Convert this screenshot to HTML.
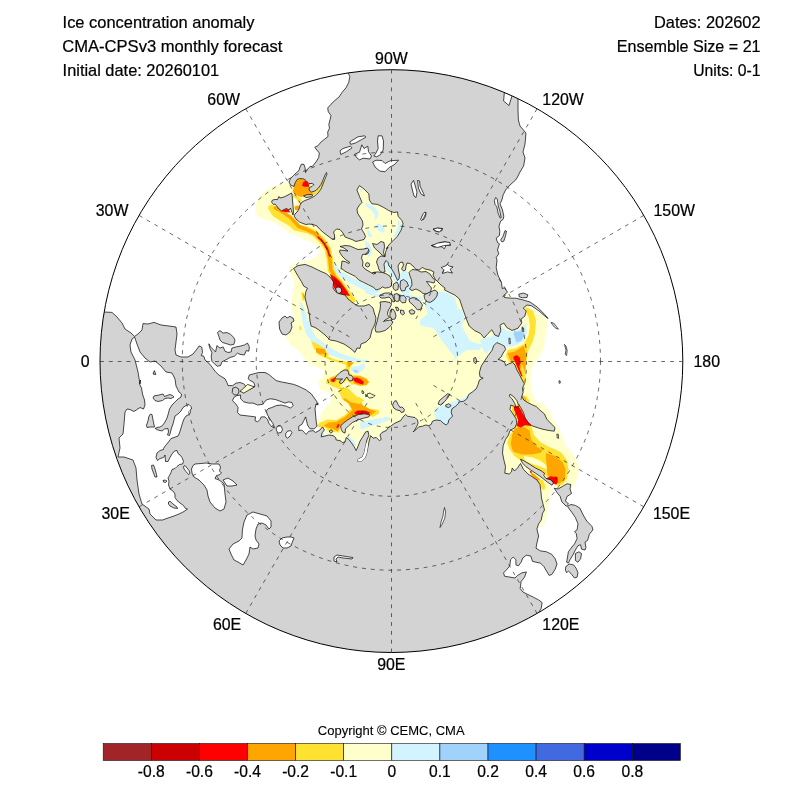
<!DOCTYPE html>
<html><head><meta charset="utf-8"><title>Ice concentration anomaly</title>
<style>
html,body{margin:0;padding:0;background:#fff;}
body{width:800px;height:800px;overflow:hidden;font-family:"Liberation Sans",sans-serif;}
svg{display:block;will-change:transform}
svg text{font-family:"Liberation Sans",sans-serif;fill:#000;stroke:#000;stroke-width:0.22px}
</style></head><body>
<svg width="800" height="800" viewBox="0 0 800 800">
<rect width="800" height="800" fill="#fff"/>
<defs><clipPath id="clip"><circle cx="391.4" cy="361.1" r="291.4"/></clipPath></defs>
<g clip-path="url(#clip)">
<g id="colors" stroke="none">
<path d="M265.6,190.0 L260.0,196.2 L255.6,203.8 L255.0,211.2 L258.8,217.5 L267.5,220.0 L276.2,223.8 L283.8,228.8 L291.2,233.8 L300.0,237.5 L310.0,241.2 L317.5,246.2 L320.0,252.5 L315.0,257.5 L307.5,261.2 L298.8,262.5 L292.5,263.8 L288.8,267.5 L290.0,272.5 L293.8,280.0 L296.2,290.0 L340.0,300.0 L400.0,300.0 L450.0,270.0 L440.0,200.0 L400.0,170.0 L365.0,178.0 L352.0,182.0 L345.0,215.0 L330.0,222.0 L310.0,215.0 L294.0,214.0 L290.0,200.0 L289.0,181.0Z" fill="#ffffcc" stroke="none" />
<path d="M296.0,290.0 L295.0,280.0 L293.0,292.0 L291.0,306.0 L293.0,316.0 L289.0,326.0 L286.0,338.0 L290.0,344.0 L298.0,350.0 L304.0,358.0 L310.0,364.0 L318.0,368.0 L324.0,370.0 L323.0,376.0 L318.0,382.0 L320.0,389.0 L326.0,394.0 L332.0,398.0 L329.0,402.0 L325.0,408.0 L321.0,414.0 L318.0,421.0 L316.0,424.0 L340.0,460.0 L420.0,460.0 L470.0,440.0 L495.0,450.0 L495.0,480.0 L530.0,530.0 L540.0,527.0 L545.0,524.0 L547.0,515.0 L549.0,503.0 L551.0,490.5 L553.0,485.0 L565.0,492.0 L570.0,487.5 L574.5,486.0 L578.0,477.0 L579.0,468.0 L576.0,459.0 L570.0,450.0 L564.0,442.5 L559.5,429.0 L553.5,420.0 L549.0,411.0 L543.0,403.5 L540.0,404.0 L537.0,402.0 L533.0,395.0 L531.0,390.0 L530.5,382.0 L531.0,372.0 L533.0,365.0 L538.0,358.0 L543.0,350.0 L546.0,335.0 L548.0,319.0 L527.0,305.0 L510.0,300.0 L480.0,250.0 L440.0,230.0 L420.0,250.0 L400.0,270.0 L340.0,296.0 L300.0,286.0Z" fill="#ffffcc" stroke="none" />
<path d="M289.0,181.0 L300.0,170.0 L315.0,168.0 L328.0,171.0 L326.0,186.0 L310.0,202.0 L298.0,213.0 L293.0,217.0 L289.0,200.0Z" fill="#ffffcc" stroke="none" />
<path d="M501.5,326.0 L506.0,330.5 L512.0,332.0 L521.0,329.0 L525.5,323.0 L527.0,332.0 L524.0,341.0 L515.0,345.5 L506.0,347.0 L500.0,342.5 L492.5,341.0 L485.0,342.5 L479.0,344.0 L470.0,341.0 L462.5,327.5 L458.0,309.5 L455.0,297.5 L447.5,293.0 L440.0,291.5 L431.0,294.5 L425.0,305.0 L431.0,323.0 L440.0,338.0 L449.0,350.0 L455.0,357.5 L449.0,365.0 L458.0,356.0 L467.0,350.0 L479.0,350.0Z" fill="#d2f4ff" stroke="none" />
<path d="M420.0,320.0 L430.0,312.0 L440.0,309.0 L452.0,308.0 L462.0,310.0 L465.0,320.0 L460.0,326.0 L452.0,329.0 L449.0,336.0 L453.0,343.0 L460.0,348.0 L456.0,352.0 L448.0,348.0 L443.0,340.0 L440.0,332.0 L434.0,328.0 L426.0,327.0 L420.0,325.0Z" fill="#d2f4ff" stroke="none" />
<path d="M480.0,340.0 L488.0,337.0 L496.0,337.6 L498.0,342.4 L492.0,348.0 L486.0,354.0 L483.0,350.0Z" fill="#d2f4ff" stroke="none" />
<path d="M436.0,408.0 L444.0,405.0 L452.0,402.0 L464.0,398.0 L476.0,388.0 L480.0,384.0 L478.0,394.0 L470.0,396.0 L468.0,401.0 L460.0,405.0 L454.0,411.0 L450.0,419.0 L442.0,423.0 L436.0,418.0Z" fill="#d2f4ff" stroke="none" />
<path d="M435.0,407.5 L440.0,406.2 L445.0,407.5 L452.5,407.5 L451.2,412.5 L452.5,416.2 L448.8,420.0 L448.1,423.1 L446.2,425.0 L443.1,423.1 L440.6,420.6 L436.2,420.0 L434.4,415.0Z" fill="#d2f4ff" stroke="none" />
<path d="M385.0,260.0 L388.8,262.5 L392.5,268.8 L396.2,275.0 L398.1,282.5 L400.0,290.0 L405.0,295.0 L410.0,292.5 L415.0,285.0 L410.0,280.0 L405.0,273.8 L402.5,270.0 L400.0,275.0 L397.5,273.8 L395.0,267.5 L391.2,262.5 L387.5,257.5Z" fill="#d2f4ff" stroke="none" />
<path d="M342.5,271.9 L350.0,276.2 L357.5,280.6 L367.5,285.6 L375.0,289.0 L380.0,290.0 L378.8,293.1 L371.2,292.2 L363.8,290.0 L356.2,286.2 L348.8,281.9 L342.5,277.5 L339.4,273.8Z" fill="#d2f4ff" stroke="none" />
<path d="M333.8,265.0 L336.2,270.0 L335.0,273.8 L332.5,270.0Z" fill="#d2f4ff" stroke="none" />
<path d="M384.5,260.0 L387.5,261.0 L390.0,267.0 L394.0,273.0 L397.0,279.0 L398.0,282.0 L395.0,282.0 L392.0,277.0 L389.0,273.0 L386.0,269.0 L384.5,265.0Z" fill="#d2f4ff" stroke="none" />
<path d="M402.0,271.0 L405.0,269.0 L408.0,273.0 L410.0,278.0 L409.0,282.0 L407.0,279.0 L405.0,275.0 L403.0,274.0Z" fill="#d2f4ff" stroke="none" />
<path d="M365.0,288.0 L371.0,291.0 L377.0,294.0 L385.0,293.5 L391.0,293.0 L398.0,294.0 L405.0,293.0 L411.0,295.0 L417.0,297.0 L421.0,296.0 L424.0,300.0 L419.0,303.0 L413.0,301.0 L407.0,299.0 L400.0,297.0 L393.0,295.0 L385.0,296.0 L377.0,297.0 L371.0,295.0 L365.0,293.0Z" fill="#d2f4ff" stroke="none" />
<path d="M425.0,303.0 L431.0,304.0 L437.0,301.0 L441.0,295.0 L445.0,291.0 L445.0,305.0 L439.0,311.0 L433.0,313.0 L427.0,309.0Z" fill="#d2f4ff" stroke="none" />
<path d="M365.0,240.0 L369.0,243.0 L372.0,249.0 L371.0,255.0 L368.0,257.0 L366.0,251.0Z" fill="#d2f4ff" stroke="none" />
<path d="M365.0,202.5 L371.2,205.0 L375.0,207.5 L378.8,212.5 L377.5,217.5 L373.8,220.0 L375.0,215.0 L371.2,210.0 L366.2,206.2Z" fill="#d2f4ff" stroke="none" />
<path d="M375.0,225.0 L380.0,223.8 L383.8,227.5 L385.0,232.5 L381.2,232.5 L377.5,230.0Z" fill="#d2f4ff" stroke="none" />
<path d="M397.5,220.0 L401.2,222.5 L401.9,227.5 L399.4,232.5 L395.0,237.5 L392.5,236.2 L396.2,231.2 L398.1,226.2Z" fill="#d2f4ff" stroke="none" />
<path d="M366.2,230.0 L370.0,231.2 L372.5,236.2 L368.8,237.5Z" fill="#d2f4ff" stroke="none" />
<path d="M358.8,187.5 L361.9,188.8 L362.5,192.5 L360.0,191.2Z" fill="#d2f4ff" stroke="none" />
<path d="M300.0,300.0 L305.0,310.0 L308.0,320.0 L312.0,330.0 L316.0,337.0 L324.0,343.0 L332.0,349.0 L342.0,354.0 L352.0,357.0 L358.0,359.0 L350.0,360.0 L340.0,358.0 L330.0,355.0 L320.0,349.0 L312.0,342.0 L306.0,334.0 L303.0,324.0 L301.0,312.0Z" fill="#d2f4ff" stroke="none" />
<path d="M351.0,367.0 L356.0,366.0 L361.0,369.0 L360.0,373.0 L355.0,373.6 L351.0,371.0Z" fill="#d2f4ff" stroke="none" />
<path d="M360.0,422.5 L367.5,420.6 L377.5,418.8 L385.0,416.9 L390.0,416.9 L390.0,420.0 L382.5,422.5 L375.0,425.0 L367.5,427.5 L361.2,430.0 L360.0,426.2Z" fill="#d2f4ff" stroke="none" />
<path d="M346.9,437.5 L350.0,436.9 L353.8,440.0 L356.2,445.0 L355.0,446.2 L351.2,442.5 L348.1,440.0Z" fill="#d2f4ff" stroke="none" />
<path d="M312.5,430.0 L316.2,431.9 L321.2,432.5 L324.4,433.8 L325.0,436.9 L321.2,436.9 L316.9,434.4 L313.1,433.1Z" fill="#d2f4ff" stroke="none" />
<path d="M513.5,333.5 L521.0,330.5 L524.8,335.0 L521.0,341.0 L516.5,342.5Z" fill="#a0d2fa" stroke="none" />
<path d="M513.8,330.0 L518.8,332.5 L522.5,331.2 L525.0,335.0 L521.2,338.8 L517.5,340.0 L515.0,336.2Z" fill="#a0d2fa" stroke="none" />
<path d="M334.0,265.0 L336.0,264.0 L338.5,269.0 L340.0,274.0 L342.0,277.0 L339.5,277.0 L337.0,273.0 L335.0,269.0Z" fill="#d2f4ff" stroke="none" />
<path d="M334.0,265.0 L338.0,267.0 L342.0,275.0 L339.0,276.0 L335.6,271.0Z" fill="#d2f4ff" stroke="none" />
<path d="M271.5,208.0 L275.0,213.5 L281.0,217.5 L290.0,222.5 L296.0,227.5 L307.5,230.0 L315.0,233.5 L322.5,241.0 L327.5,248.5 L330.0,260.0 L331.0,270.0 L335.0,277.5 L340.0,283.0 L346.0,292.0 L352.0,300.0" fill="none" stroke="#ffe132" stroke-width="6.5" stroke-linecap="round" stroke-linejoin="round"/>
<path d="M275.5,208.0 L279.0,210.0 L283.0,212.5 L290.0,217.0 L295.0,222.0 L299.0,226.5 L307.5,229.8 L315.0,233.5 L322.5,241.0 L327.5,248.5 L330.0,260.0 L331.0,270.0 L335.0,277.5 L340.0,283.0 L346.0,292.0" fill="none" stroke="#ffa500" stroke-width="3.6" stroke-linecap="round" stroke-linejoin="round"/>
<path d="M318.0,237.0 L323.0,242.0 L327.5,249.0 L329.5,256.0" fill="none" stroke="#ff0000" stroke-width="1.6" stroke-linecap="round" stroke-linejoin="round"/>
<path d="M330.0,274.0 L335.0,277.0 L340.0,281.5 L346.0,289.5 L350.0,296.0 L344.0,295.0 L338.0,293.0 L334.0,288.0 L332.5,282.0Z" fill="#ff0000" stroke="none" />
<path d="M334.0,278.0 L339.0,282.0 L342.0,287.0 L337.0,288.0 L334.4,284.0Z" fill="#cd0000" stroke="none" />
<path d="M281.5,211.2 L284.0,209.7 L286.5,208.7 L289.0,210.2 L290.5,212.5 L286.5,212.2Z" fill="#ff0000" stroke="none" />
<path d="M294.0,186.5 L295.0,183.0 L297.0,180.0 L300.0,179.0 L304.0,179.2 L306.5,181.0 L309.0,183.5 L309.5,187.5 L309.0,190.0 L311.5,192.0 L315.0,191.0 L318.0,188.5 L320.5,185.0 L321.5,186.0 L319.0,190.0 L315.0,194.0 L310.0,195.5 L305.0,196.0 L301.0,197.0 L298.0,196.0 L295.0,194.0 L292.5,192.0Z" fill="#ffa500" stroke="none" />
<path d="M315.0,191.0 L318.0,188.5 L321.0,184.5 L323.0,180.0 L324.0,181.0 L322.0,186.0 L319.5,190.0 L316.5,193.0 L313.0,194.0 L312.0,192.5Z" fill="#ffe132" stroke="none" />
<path d="M302.0,186.0 L303.0,182.5 L305.0,180.8 L307.5,182.2 L309.0,184.5 L309.0,186.8 L305.0,186.8Z" fill="#ff0000" stroke="none" />
<path d="M292.5,194.0 L295.0,195.0 L299.0,197.0 L302.0,200.0 L300.0,203.0 L297.0,202.0 L294.0,200.0 L292.8,197.0Z" fill="#ffe132" stroke="none" />
<path d="M294.5,206.5 L297.0,205.5 L299.5,206.0 L299.0,209.0 L297.0,210.5 L294.8,209.8Z" fill="#ffa500" stroke="none" />
<path d="M293.5,197.0 L295.0,198.0 L297.0,200.0 L298.0,203.0 L296.0,204.0 L294.5,202.0Z" fill="#fff" stroke="none" />
<path d="M311.0,341.0 L316.0,343.0 L324.0,348.0 L329.0,355.0 L326.0,357.0 L320.0,354.0 L314.0,349.0Z" fill="#ffe132" stroke="none" />
<path d="M318.0,349.0 L324.0,350.0 L327.0,354.4 L322.0,354.0Z" fill="#ffa500" stroke="none" />
<path d="M299.0,326.0 L301.0,326.4 L301.6,330.0 L299.6,330.0Z" fill="#ffe132" stroke="none" />
<path d="M302.2,292.5 L303.6,296.5 L303.2,300.5" fill="none" stroke="#ffe132" stroke-width="2.6" stroke-linecap="butt" stroke-linejoin="round"/>
<path d="M303.2,294.0 L304.0,298.0" fill="none" stroke="#ffa500" stroke-width="1.0" stroke-linecap="butt" stroke-linejoin="round"/>
<path d="M316.0,350.0 L320.0,352.0 L326.0,355.5 L333.0,358.8 L340.0,360.8 L347.0,361.8 L354.5,362.2 L351.5,365.0 L349.5,369.0 L350.0,373.0 L353.0,375.0 L360.0,375.5 L366.0,378.0 L369.5,382.0 L366.5,385.5 L360.0,386.0 L354.0,384.0 L352.0,385.0 L346.0,388.5 L343.2,392.0 L344.0,397.0 L348.0,398.8 L360.0,397.8 L362.2,403.0 L364.2,408.0 L370.0,410.8 L378.0,409.8 L379.2,413.0 L374.0,416.2 L370.0,415.5 L364.0,416.0 L355.0,415.0 L350.0,412.5 L354.0,409.0 L353.0,405.0 L349.0,403.0 L344.0,401.0 L341.0,397.0 L340.5,392.0 L339.0,389.0 L334.0,387.0 L329.0,384.5 L325.5,383.0 L327.0,380.0 L331.0,377.0 L336.0,375.0 L340.0,372.5 L344.0,370.0 L346.2,367.0 L345.5,364.5 L340.0,363.0 L330.0,360.0 L320.0,355.5 L316.0,353.0Z" fill="#ffe132" stroke="none" />
<path d="M341.5,384.5 L345.0,382.0 L347.0,380.0 L350.0,383.0 L352.0,384.5 L346.0,387.8 L342.5,388.5 L340.5,387.0Z" fill="#ffffcc" stroke="none" />
<path d="M316.0,348.0 L325.0,349.0 L326.2,354.0 L320.0,354.5 L316.0,352.0Z" fill="#ffa500" stroke="none" />
<path d="M347.0,362.0 L354.0,362.5 L351.2,365.0 L348.8,367.2 L347.6,365.0Z" fill="#ffa500" stroke="none" />
<path d="M352.0,376.2 L360.0,376.2 L366.0,378.8 L368.8,382.0 L366.0,385.0 L360.0,385.5 L354.0,383.5 L353.0,380.0Z" fill="#ffa500" stroke="none" />
<path d="M353.5,378.0 L357.0,377.5 L361.0,379.5 L364.0,382.0 L362.5,384.5 L359.0,383.5 L355.0,382.0 L353.5,380.0Z" fill="#ff0000" stroke="none" />
<path d="M329.5,379.0 L333.0,376.8 L336.5,377.5 L336.0,380.5 L334.0,382.5 L330.5,382.0Z" fill="#ffa500" stroke="none" />
<path d="M331.0,379.5 L333.5,378.5 L335.5,380.0 L334.0,382.0 L331.5,381.5Z" fill="#ff0000" stroke="none" />
<path d="M340.0,388.5 L344.0,387.2 L345.0,389.0 L342.5,390.0Z" fill="#ffa500" stroke="none" />
<path d="M344.0,400.0 L348.0,398.0 L360.0,398.5 L361.5,404.0 L364.0,409.0 L370.0,411.5 L372.0,414.0 L355.0,414.2 L350.0,412.0 L354.0,409.0 L353.0,405.0 L349.0,403.0Z" fill="#ffa500" stroke="none" />
<path d="M354.0,412.2 L357.0,410.5 L364.0,410.0 L369.0,411.5 L370.0,413.5 L365.0,414.2 L359.0,414.7 L355.0,414.2Z" fill="#ff0000" stroke="none" />
<path d="M351.0,368.5 L355.0,367.5 L360.0,365.0 L364.0,363.0 L365.2,367.0 L362.0,371.0 L357.0,373.5 L353.0,372.0Z" fill="#d2f4ff" stroke="none" />
<path d="M353.0,369.5 L357.0,370.0 L358.5,372.5 L355.0,372.5Z" fill="#a0d2fa" stroke="none" />
<path d="M328.0,349.0 L335.0,350.0 L341.0,354.0 L346.0,357.0 L353.0,359.0 L360.0,359.5 L368.0,360.0 L370.0,362.5 L364.0,361.8 L356.0,361.5 L348.0,360.5 L340.0,358.5 L333.0,355.5 L329.0,352.0Z" fill="#d2f4ff" stroke="none" />
<path d="M338.1,390.0 L345.0,390.0 L343.8,395.0 L348.8,397.5 L360.0,397.5 L362.5,405.0 L370.0,408.8 L378.8,410.0 L378.1,413.8 L372.5,416.9 L370.0,415.0 L365.0,413.8 L358.8,414.4 L352.5,416.9 L347.5,420.0 L342.5,423.8 L340.0,426.2 L339.4,432.5 L333.8,431.9 L328.8,431.2 L325.0,427.5 L320.0,427.5 L316.9,426.2 L319.4,423.1 L327.5,419.4 L336.2,420.0 L345.0,415.0 L351.2,408.8 L347.5,402.5 L341.2,396.2Z" fill="#ffe132" stroke="none" />
<path d="M342.5,398.8 L348.8,398.1 L358.8,398.1 L361.9,405.0 L368.8,408.8 L376.2,411.2 L371.2,415.0 L365.0,413.8 L358.8,414.4 L352.5,416.9 L347.5,420.0 L342.5,423.8 L340.0,427.5 L337.5,431.2 L332.5,428.8 L327.5,427.5 L323.8,425.6 L328.8,422.5 L336.2,421.9 L345.0,416.9 L352.5,410.0 L348.8,403.8Z" fill="#ffa500" stroke="none" />
<path d="M354.4,412.5 L357.5,410.6 L365.0,410.6 L370.0,412.5 L368.8,414.4 L363.8,413.8 L358.8,414.4 L355.0,414.4Z" fill="#ff0000" stroke="none" />
<path d="M336.2,427.5 L338.1,423.8 L339.4,424.4 L338.1,428.1Z" fill="#ff0000" stroke="none" />
<path d="M340.0,389.0 L348.0,388.0 L356.0,396.0 L364.0,400.0 L360.0,404.0 L350.0,402.0 L343.0,396.0Z" fill="#ffe132" stroke="none" />
<path d="M306.9,390.0 L321.2,390.0 L331.2,393.8 L330.6,402.5 L325.0,408.8 L318.8,412.5 L316.5,415.0 L315.9,402.5 L311.2,393.8Z" fill="#fff" stroke="none" />
<path d="M525.5,306.5 L533.0,311.0 L536.0,320.0 L535.2,332.0 L533.0,341.0 L528.5,350.0 L526.2,362.0 L525.5,374.0 L524.0,380.0 L518.0,371.0 L515.0,365.0 L509.0,362.0 L506.0,356.0 L507.5,350.0 L515.0,348.5 L524.0,344.0 L528.5,335.0 L530.0,326.0 L528.5,317.0 L525.5,311.0Z" fill="#ffe132" stroke="none" />
<path d="M507.5,353.0 L515.0,351.5 L524.0,345.5 L526.2,356.0 L525.5,368.0 L524.0,378.5 L519.5,374.0 L516.5,365.0 L510.5,360.5Z" fill="#ffa500" stroke="none" />
<path d="M511.2,361.2 L517.5,360.0 L522.5,365.0 L525.0,372.5 L526.2,380.0 L525.0,385.0 L522.5,382.5 L520.0,376.2 L517.5,371.2 L515.0,366.2Z" fill="#ffe132" stroke="none" />
<path d="M513.8,358.8 L518.1,358.1 L520.6,362.5 L521.2,367.5 L519.4,370.0 L516.9,366.2 L515.0,362.5Z" fill="#ffa500" stroke="none" />
<path d="M513.3,356.7 L516.6,355.0 L519.8,357.5 L520.7,362.4 L519.2,366.4 L520.7,371.3 L522.6,376.2 L521.3,376.2 L519.0,371.3 L517.0,366.4 L515.0,361.5 L513.7,359.1Z" fill="#ff0000" stroke="none" />
<path d="M522.5,395.0 L526.2,396.2 L530.0,401.2 L527.5,403.1 L523.8,400.0Z" fill="#ffe132" stroke="none" />
<path d="M511.5,405.0 L519.0,404.2 L525.0,412.5 L529.5,421.5 L531.8,427.5 L534.0,435.0 L540.0,441.8 L547.5,446.2 L555.0,449.2 L561.8,453.0 L567.0,460.5 L568.5,469.5 L567.0,478.5 L563.2,484.5 L558.0,486.0 L550.5,481.5 L544.5,474.0 L537.0,469.5 L529.5,465.0 L520.5,460.5 L514.5,456.0 L510.0,450.0 L507.0,442.5 L510.0,435.0 L515.2,427.5 L516.8,420.0 L512.2,412.5Z" fill="#ffe132" stroke="none" />
<path d="M523.5,456.0 L532.5,457.5 L540.0,460.5 L546.0,465.0 L547.5,469.5 L540.0,466.5 L531.0,463.5 L525.0,460.5Z" fill="#ffffcc" stroke="none" />
<path d="M514.5,429.0 L520.5,426.0 L525.0,427.5 L529.5,430.5 L531.0,439.5 L537.0,447.0 L543.0,450.0 L540.0,453.0 L531.0,454.5 L522.0,454.5 L513.0,451.5 L510.8,444.0 L512.2,435.0Z" fill="#ffa500" stroke="none" />
<path d="M546.0,453.0 L555.0,456.0 L562.5,462.0 L565.5,469.5 L564.8,478.5 L559.5,483.8 L553.5,481.5 L547.5,475.5 L546.8,466.5 L546.0,459.0Z" fill="#ffa500" stroke="none" />
<path d="M513.8,406.5 L518.2,405.8 L521.2,410.2 L524.2,416.2 L528.0,422.2 L531.8,426.0 L525.0,425.2 L520.5,427.5 L516.8,426.0 L518.2,420.0 L516.0,414.0 L514.2,410.2Z" fill="#ff0000" stroke="none" />
<path d="M546.0,478.5 L550.5,476.2 L555.0,477.0 L558.0,480.8 L556.5,484.5 L552.0,483.3 L548.2,481.5Z" fill="#ff0000" stroke="none" />
<path d="M554.7,476.2 L557.2,477.0 L558.0,479.7 L555.8,480.0Z" fill="#cd0000" stroke="none" />
<path d="M530.2,471.8 L534.0,474.0 L539.2,478.5 L543.8,483.0 L544.5,486.0 L540.8,484.5 L536.2,480.0 L531.8,476.2Z" fill="#ffa500" stroke="none" />
<path d="M529.8,471.0 L531.3,471.0 L531.8,473.2 L530.4,472.8Z" fill="#ff0000" stroke="none" />
<path d="M522.8,395.2 L525.0,396.8 L528.0,401.2 L529.5,404.2 L526.8,403.5 L524.2,400.5Z" fill="#ffe132" stroke="none" />
<path d="M523.5,396.0 L525.0,397.5 L526.5,400.5 L525.0,400.8Z" fill="#ffa500" stroke="none" />
<path d="M537.8,480.0 L543.0,480.0 L545.6,487.0 L543.9,490.5 L541.2,487.9Z" fill="#ffe132" stroke="none" />
<path d="M399.3,309.0 L391.4,361.0 L378.8,444.0" fill="none" stroke="#ffffff" stroke-width="0.7" opacity="0.85"/>
</g>
<g id="land" fill="#d3d3d3" stroke="#000" stroke-width="0.7" stroke-linejoin="round">
<path d="M291.5,193.0 L288.0,195.0 L284.0,197.0 L280.0,198.0 L279.0,196.5 L277.5,199.5 L275.0,199.5 L272.5,200.0 L271.5,202.0 L273.5,204.5 L275.0,204.0 L277.5,207.0 L279.0,209.0 L281.5,211.0 L284.0,209.5 L286.5,208.5 L289.0,210.0 L290.5,208.0 L291.2,210.0 L293.0,215.0 L293.5,212.0 L293.0,206.0 L292.5,200.0 L292.0,194.0Z" fill="#d3d3d3" stroke="#000" stroke-width="0.7" />
<path d="M303.5,196.0 L307.0,194.7 L311.5,194.5 L313.0,195.5 L310.0,197.0 L306.0,197.5Z" fill="#d3d3d3" stroke="#000" stroke-width="0.7" />
<path d="M349.0,60.0 L348.2,73.2 L349.8,76.5 L348.7,82.5 L346.0,87.8 L342.2,92.2 L339.2,96.8 L334.8,100.5 L331.0,104.2 L327.7,108.0 L328.3,111.8 L331.0,115.5 L330.2,119.2 L328.8,124.5 L329.5,128.2 L327.7,132.0 L328.0,136.5 L324.2,139.5 L320.8,142.2 L318.2,145.5 L314.8,147.3 L316.8,150.0 L319.3,153.0 L318.7,157.5 L316.0,162.0 L312.2,166.5 L310.0,166.5 L307.0,170.0 L305.5,172.5 L305.0,167.5 L304.0,164.5 L301.5,164.0 L300.0,167.0 L299.0,170.5 L296.5,172.5 L293.5,175.5 L290.5,178.5 L289.0,182.0 L290.5,185.0 L294.0,186.5 L295.0,183.0 L297.0,179.5 L300.0,178.5 L304.0,179.0 L306.5,181.0 L309.0,183.5 L312.0,183.5 L314.0,184.5 L312.0,186.5 L309.5,187.5 L309.0,190.0 L311.5,192.0 L315.0,191.0 L318.0,188.5 L321.0,184.5 L323.0,180.0 L325.0,175.0 L326.5,172.5 L327.0,174.0 L325.0,179.0 L323.0,184.0 L321.0,189.0 L318.0,193.0 L314.0,196.5 L309.0,199.0 L305.0,200.5 L302.0,202.0 L300.0,205.0 L299.0,209.0 L297.0,212.0 L295.0,214.0 L294.0,216.0 L296.0,219.0 L299.5,222.0 L303.0,223.5 L306.0,224.5 L309.0,224.0 L313.0,224.5 L317.0,226.0 L319.5,229.0 L324.0,233.0 L328.0,236.0 L332.0,239.0 L334.5,239.5 L334.5,235.0 L333.5,232.0 L336.5,229.0 L340.0,229.5 L343.0,233.0 L345.0,237.0 L349.0,238.5 L352.0,239.5 L356.0,241.5 L360.0,240.5 L364.0,239.5 L365.5,236.5 L364.0,233.0 L361.5,229.0 L363.0,225.0 L362.5,221.0 L360.0,217.0 L357.5,213.0 L357.0,209.0 L359.5,205.0 L362.0,202.5 L361.0,200.0 L359.4,196.2 L356.9,190.0 L359.4,185.6 L363.8,188.8 L368.8,193.8 L369.4,200.0 L371.9,203.8 L377.5,204.4 L383.8,207.5 L388.8,210.6 L393.8,212.5 L397.5,211.9 L398.1,216.2 L401.9,220.6 L403.1,223.8 L401.2,230.0 L397.5,236.2 L392.5,241.2 L388.8,245.0 L386.2,248.8 L388.0,247.0 L385.5,252.0 L385.0,256.5 L381.0,256.0 L378.0,258.0 L376.5,262.0 L378.0,266.0 L379.0,270.0 L382.0,272.5 L385.0,272.0 L384.5,268.0 L384.0,264.0 L386.0,260.5 L388.0,262.5 L389.0,266.0 L391.0,268.0 L393.5,272.0 L396.0,277.0 L397.5,280.5 L399.0,279.0 L399.5,275.0 L398.5,270.0 L398.0,266.0 L400.0,262.5 L402.5,262.0 L403.5,265.0 L401.5,269.0 L403.5,271.0 L405.5,270.0 L406.0,266.0 L407.0,263.0 L410.0,263.5 L413.0,266.0 L416.0,269.5 L419.0,270.0 L422.5,267.5 L425.0,269.0 L430.0,270.0 L434.0,272.0 L433.0,275.0 L435.0,279.0 L438.0,282.0 L441.0,285.0 L445.0,288.0 L444.5,290.0 L449.0,292.2 L455.0,295.2 L459.5,299.0 L462.5,308.0 L466.2,318.5 L469.2,326.0 L474.5,330.5 L480.5,333.5 L484.2,338.0 L488.0,333.5 L491.8,329.8 L494.8,335.0 L498.5,336.5 L500.8,330.5 L500.0,325.2 L503.8,323.0 L506.8,327.5 L512.0,330.5 L518.0,328.2 L521.8,323.0 L521.0,319.2 L524.8,316.2 L526.2,311.0 L523.2,308.0 L527.0,305.0 L531.5,305.8 L539.0,311.0 L545.0,316.2 L548.0,318.5 L545.0,314.8 L537.5,307.2 L530.0,302.0 L522.5,299.8 L515.8,298.2 L510.5,298.2 L504.5,297.5 L503.8,295.2 L507.5,292.2 L504.5,287.8 L502.2,288.5 L501.5,282.5 L497.8,275.0 L496.2,267.5 L497.0,260.0 L496.2,257.5 L498.8,253.8 L497.5,250.0 L499.4,243.8 L497.5,242.5 L496.2,238.1 L499.4,235.6 L499.8,231.2 L499.0,226.2 L500.6,221.2 L503.1,219.4 L503.8,216.2 L502.5,210.0 L500.0,203.8 L501.9,200.0 L503.1,195.0 L505.6,190.0 L510.0,185.0 L515.6,180.0 L517.0,178.0 L520.0,172.0 L523.6,166.0 L525.0,158.0 L523.0,152.0 L525.0,144.0 L526.0,133.0 L520.0,126.0 L518.4,120.0 L518.0,110.0 L518.0,99.0 L520.0,60.0Z" fill="#d3d3d3" stroke="#000" stroke-width="0.7" />
<path d="M500.6,240.0 L503.1,236.2 L505.0,230.6 L506.5,231.2 L505.6,235.6 L503.8,241.2 L501.9,241.9Z" fill="#d3d3d3" stroke="#000" stroke-width="0.7" />
<path d="M518.8,294.2 L523.2,293.0 L527.8,294.8 L527.0,297.5 L522.5,297.8 L519.2,296.8Z" fill="#d3d3d3" stroke="#000" stroke-width="0.7" />
<path d="M372.5,243.5 L377.0,244.5 L381.0,241.5 L384.0,242.5 L384.5,247.0 L383.5,252.5 L385.0,256.5 L382.0,255.0 L378.0,251.0 L374.5,248.0Z" fill="#d3d3d3" stroke="#000" stroke-width="0.7" />
<path d="M365.0,248.5 L368.0,249.0 L369.2,251.5 L367.5,254.0 L365.0,254.5 L363.0,251.5Z" fill="#d3d3d3" stroke="#000" stroke-width="0.7" />
<path d="M367.5,262.6 L369.1,263.3 L369.7,264.8 L369.1,266.3 L367.5,267.0 L365.9,266.3 L365.3,264.8 L365.9,263.3Z" fill="#d3d3d3" stroke="#000" stroke-width="0.7" />
<path d="M340.0,246.5 L345.0,245.5 L350.0,246.0 L354.5,248.0 L358.0,249.5 L364.0,249.0 L367.5,248.0 L369.0,250.0 L366.0,254.0 L362.5,254.5 L361.5,258.0 L363.0,262.0 L362.5,266.0 L365.0,269.0 L370.0,272.0 L373.5,274.0 L376.0,273.0 L372.5,272.5 L377.5,271.9 L382.5,272.5 L386.2,273.8 L390.0,276.2 L391.9,281.2 L391.2,286.2 L388.8,287.5 L385.0,288.1 L382.5,286.9 L380.0,288.8 L376.2,290.0 L373.8,287.5 L368.8,285.0 L363.8,282.5 L358.8,280.0 L355.0,276.2 L350.0,273.8 L345.0,271.2 L341.9,268.8 L341.0,269.0 L341.5,265.0 L342.0,261.0 L345.0,261.5 L349.0,263.5 L349.5,262.0 L346.0,260.0 L342.0,256.0 L339.5,252.0 L340.0,250.0 L344.0,250.5 L348.0,251.0 L344.0,248.0Z" fill="#d3d3d3" stroke="#000" stroke-width="0.7" />
<path d="M409.0,272.5 L412.0,269.5 L417.0,270.0 L421.0,272.0 L426.0,271.5 L430.0,274.0 L432.0,277.0 L435.0,280.5 L434.0,283.0 L430.0,282.0 L426.5,281.5 L429.0,285.0 L431.5,288.0 L430.5,292.0 L427.0,294.0 L423.0,293.5 L420.0,291.0 L416.0,289.0 L412.0,290.5 L409.5,289.0 L412.0,285.0 L411.5,280.0 L410.0,276.0Z" fill="#d3d3d3" stroke="#000" stroke-width="0.7" />
<path d="M424.0,295.0 L429.0,292.5 L435.0,290.0 L437.5,292.0 L437.0,296.0 L434.0,300.0 L430.0,302.5 L426.5,301.5 L424.5,298.5Z" fill="#d3d3d3" stroke="#000" stroke-width="0.7" />
<path d="M400.5,281.0 L403.5,279.5 L407.0,282.0 L408.5,286.0 L406.0,287.0 L405.0,290.5 L401.5,291.0 L400.0,287.0Z" fill="#d3d3d3" stroke="#000" stroke-width="0.7" />
<path d="M393.5,284.0 L397.0,282.0 L398.5,285.0 L398.0,289.5 L395.0,290.5 L393.0,288.0Z" fill="#d3d3d3" stroke="#000" stroke-width="0.7" />
<path d="M380.0,295.0 L385.0,293.0 L390.0,293.0 L392.5,295.0 L393.5,298.5 L395.0,301.5 L393.0,302.0 L391.0,299.0 L389.0,297.0 L385.0,298.0 L381.0,298.0 L379.5,296.5Z" fill="#d3d3d3" stroke="#000" stroke-width="0.7" />
<path d="M394.0,294.5 L397.0,293.5 L399.5,295.0 L399.0,301.0 L396.5,301.5 L394.5,299.5Z" fill="#d3d3d3" stroke="#000" stroke-width="0.7" />
<path d="M400.0,296.0 L404.0,295.5 L406.2,298.5 L405.5,302.5 L402.0,302.8 L399.8,300.0Z" fill="#d3d3d3" stroke="#000" stroke-width="0.7" />
<path d="M409.0,299.0 L413.0,297.5 L417.0,298.5 L420.0,301.5 L422.5,305.0 L421.0,309.0 L417.5,310.0 L415.0,307.0 L412.0,304.0 L409.5,302.0Z" fill="#d3d3d3" stroke="#000" stroke-width="0.7" />
<path d="M409.0,311.0 L412.0,309.5 L415.0,311.5 L414.0,314.0 L410.5,314.0Z" fill="#d3d3d3" stroke="#000" stroke-width="0.7" />
<path d="M400.5,310.0 L403.5,310.5 L404.5,313.5 L402.5,315.0 L400.5,313.0Z" fill="#d3d3d3" stroke="#000" stroke-width="0.7" />
<path d="M395.5,307.0 L398.0,307.5 L399.0,310.0 L397.0,311.0Z" fill="#d3d3d3" stroke="#000" stroke-width="0.7" />
<path d="M380.0,302.0 L385.0,301.5 L390.0,302.5 L391.5,304.5 L390.0,307.5 L388.0,311.0 L387.5,314.5 L389.5,317.5 L385.0,320.0 L383.5,321.5 L387.0,320.5 L391.0,320.0 L393.0,322.0 L391.5,324.5 L389.0,327.5 L385.0,330.5 L380.0,332.0 L376.0,332.0 L375.0,329.0 L376.0,325.0 L377.5,320.0 L378.5,315.0 L380.0,310.0 L380.5,305.0Z" fill="#d3d3d3" stroke="#000" stroke-width="0.7" />
<path d="M390.5,310.0 L393.0,309.0 L395.0,312.0 L396.0,316.0 L395.0,319.0 L392.0,319.5 L390.0,317.0 L390.0,313.0Z" fill="#d3d3d3" stroke="#000" stroke-width="0.7" />
<path d="M293.6,268.4 L298.0,265.6 L305.0,264.4 L312.0,267.0 L320.0,271.0 L326.0,273.6 L330.0,277.0 L333.6,282.0 L333.0,288.0 L335.0,291.0 L340.0,294.0 L345.0,295.0 L348.0,299.0 L353.0,303.0 L358.0,306.0 L364.0,306.0 L369.0,304.4 L373.0,308.0 L374.0,312.0 L376.0,318.0 L375.0,324.0 L372.0,330.0 L370.0,338.0 L366.0,342.0 L361.0,344.0 L360.0,348.4 L357.0,348.0 L355.0,352.4 L350.0,348.0 L344.0,344.0 L336.0,341.0 L330.0,340.0 L325.0,335.0 L318.8,330.0 L315.0,327.4 L311.2,326.2 L310.0,321.2 L309.4,315.0 L308.0,308.8 L306.2,302.4 L305.0,297.6 L305.6,292.4 L307.4,288.2 L303.8,286.2 L301.2,281.2 L297.4,275.0Z" fill="#d3d3d3" stroke="#000" stroke-width="0.7" />
<path d="M335.5,288.5 L338.0,286.8 L341.0,288.0 L341.8,291.0 L340.0,293.3 L337.0,293.0Z" fill="#d3d3d3" stroke="#000" stroke-width="0.7" />
<path d="M279.0,322.0 L282.0,318.0 L285.0,316.0 L287.0,318.0 L290.0,316.4 L293.0,318.0 L294.0,321.0 L291.0,323.0 L292.0,327.0 L290.0,332.0 L286.0,335.0 L282.0,334.0 L279.6,329.0Z" fill="#d3d3d3" stroke="#000" stroke-width="0.7" />
<path d="M60.0,300.0 L104.0,312.0 L112.0,312.4 L117.0,317.0 L122.0,323.0 L125.0,329.0 L131.0,333.0 L134.6,336.4 L138.0,334.0 L142.0,330.0 L143.0,323.6 L148.0,324.0 L154.0,322.4 L161.0,325.0 L169.0,326.0 L176.0,327.0 L177.0,334.0 L176.0,342.0 L175.0,350.0 L176.0,355.0 L181.0,357.0 L188.0,357.0 L193.0,354.0 L197.0,349.0 L199.0,346.0 L200.0,346.2 L201.9,347.5 L202.5,352.5 L201.2,355.6 L203.8,356.2 L205.0,360.0 L208.8,363.1 L211.9,366.9 L215.0,371.2 L218.8,375.0 L221.9,376.9 L225.0,378.8 L226.9,382.5 L228.1,385.6 L232.5,385.6 L236.2,383.1 L240.0,382.5 L243.8,383.8 L245.6,386.2 L250.0,389.4 L255.0,386.2 L253.8,382.5 L249.4,380.0 L248.1,378.8 L249.4,375.0 L253.8,373.8 L258.8,372.5 L265.0,372.5 L268.8,374.4 L272.5,377.5 L276.2,380.6 L281.2,381.9 L287.5,383.1 L293.8,384.4 L300.0,386.9 L301.2,387.5 L306.2,390.0 L311.2,393.8 L314.4,398.1 L316.9,401.9 L318.1,405.0 L316.2,403.8 L315.0,408.8 L315.6,415.0 L316.2,421.2 L316.9,426.2 L314.4,428.8 L310.0,428.8 L307.5,425.0 L305.6,416.9 L303.8,420.6 L301.9,424.4 L298.8,426.2 L298.8,430.6 L301.9,430.0 L304.4,432.5 L306.2,434.4 L308.8,431.2 L313.1,430.6 L315.6,432.5 L320.0,430.0 L322.5,426.9 L324.4,430.0 L321.9,433.1 L321.2,436.9 L324.4,436.2 L328.8,435.0 L333.1,435.6 L335.6,437.5 L336.2,440.0 L340.0,440.6 L342.5,442.5 L345.0,441.9 L346.2,437.5 L348.8,439.4 L351.2,442.5 L353.8,446.2 L356.2,450.6 L358.1,446.2 L360.0,441.2 L363.1,436.2 L365.6,431.9 L368.1,431.2 L368.8,435.6 L366.9,440.0 L365.6,446.2 L364.4,452.5 L362.5,456.9 L358.1,459.4 L357.5,461.2 L361.2,461.2 L365.0,458.1 L366.9,452.5 L368.1,446.2 L369.4,440.0 L370.6,435.6 L373.1,438.1 L376.2,437.5 L379.4,440.6 L381.2,439.4 L380.0,435.0 L381.9,432.5 L386.2,430.6 L388.8,426.9 L390.6,426.2 L395.0,423.1 L400.6,420.6 L403.1,416.9 L405.6,414.4 L407.5,416.2 L411.2,416.9 L415.0,417.5 L417.5,420.0 L418.1,423.1 L416.9,426.2 L414.4,430.6 L413.1,431.9 L416.2,429.4 L418.8,426.9 L422.5,426.2 L425.6,425.0 L428.8,425.6 L431.2,424.4 L432.5,421.2 L436.2,420.0 L440.6,420.6 L443.1,423.1 L446.2,425.0 L448.1,423.1 L448.8,420.0 L452.5,416.2 L451.2,412.5 L451.9,408.8 L455.6,406.2 L458.8,403.1 L458.8,401.9 L463.8,401.2 L466.9,398.8 L468.8,394.4 L472.5,391.9 L476.2,388.8 L478.1,384.4 L479.4,380.0 L483.1,378.1 L480.0,376.9 L479.4,372.5 L481.2,366.2 L484.4,361.2 L488.1,355.6 L491.9,350.6 L493.8,345.6 L496.9,342.5 L501.2,344.4 L504.4,346.2 L505.6,349.4 L503.1,353.1 L501.2,356.9 L498.1,359.4 L502.5,360.6 L505.0,363.1 L505.6,365.6 L508.8,363.8 L512.5,362.5 L515.0,365.0 L516.9,370.0 L519.4,374.4 L521.9,379.4 L524.4,383.8 L522.5,388.1 L523.1,392.5 L521.9,396.2 L523.8,400.0 L527.5,402.5 L531.0,404.2 L536.2,406.5 L540.0,410.2 L544.5,414.0 L546.8,419.2 L551.2,423.8 L555.0,427.5 L554.2,431.2 L549.0,430.5 L543.0,429.3 L537.0,427.5 L531.8,425.7 L528.0,422.2 L525.0,417.8 L523.5,412.5 L520.5,407.2 L518.2,404.2 L516.8,400.5 L513.8,396.8 L510.0,394.2 L509.2,396.0 L512.2,399.0 L514.8,403.5 L516.0,408.0 L513.8,406.2 L510.8,405.0 L510.0,409.5 L513.0,414.0 L516.0,418.5 L516.8,423.0 L515.2,427.5 L510.0,430.5 L508.5,435.0 L505.5,439.5 L503.2,445.5 L502.5,453.0 L504.0,460.5 L505.5,466.5 L504.8,473.2 L509.2,474.0 L511.5,471.8 L512.2,468.0 L514.5,471.0 L517.5,468.0 L520.5,463.5 L523.5,469.5 L528.0,474.0 L532.5,477.0 L537.0,480.0 L540.0,484.5 L540.8,490.5 L541.5,498.0 L543.0,504.0 L544.5,510.0 L542.6,513.2 L541.2,520.2 L538.6,523.8 L536.9,529.0 L538.6,536.0 L536.9,543.0 L536.0,548.2 L540.4,550.9 L546.5,551.8 L551.8,554.4 L555.2,558.8 L557.0,564.0 L555.2,569.2 L551.8,574.5 L549.1,575.4 L546.5,571.0 L543.9,566.6 L540.4,563.1 L536.0,562.2 L532.5,561.4 L530.8,556.1 L526.4,555.2 L522.9,557.9 L521.1,562.2 L518.5,565.8 L515.9,564.9 L515.9,559.6 L513.2,557.0 L510.6,559.6 L509.8,565.8 L507.1,569.2 L503.6,572.8 L504.5,576.2 L509.8,577.1 L515.0,578.0 L517.6,575.4 L522.0,572.8 L526.4,571.9 L524.6,577.1 L521.1,581.5 L520.2,588.5 L522.9,592.0 L528.1,594.6 L533.4,597.2 L538.6,599.9 L542.1,602.5 L541.2,608.6 L539.5,611.2 L560.0,640.0 L560.0,700.0 L100.0,700.0 L60.0,500.0Z" fill="#d3d3d3" stroke="#000" stroke-width="0.7" />
<path d="M208.8,343.8 L210.6,346.9 L213.1,349.4 L215.6,351.9 L216.9,345.6 L220.0,348.1 L223.1,346.9 L225.0,351.2 L228.1,352.5 L231.2,351.9 L231.9,348.1 L236.2,346.9 L240.0,346.2 L244.4,345.0 L247.5,343.1 L249.4,346.9 L248.8,351.2 L246.2,350.6 L244.4,355.0 L240.0,354.4 L237.5,353.1 L234.4,356.2 L230.0,357.5 L225.6,360.0 L221.9,361.9 L220.6,365.6 L217.5,366.2 L214.4,363.8 L211.9,361.2 L211.2,356.9 L211.9,352.5 L210.0,348.8Z" fill="#d3d3d3" stroke="#000" stroke-width="0.7" />
<path d="M217.5,332.5 L220.0,330.6 L223.1,333.1 L226.9,332.5 L230.6,334.4 L233.8,337.5 L235.0,340.6 L233.8,344.4 L230.6,345.0 L226.9,343.8 L222.5,342.5 L220.0,340.0 L218.8,336.2Z" fill="#d3d3d3" stroke="#000" stroke-width="0.7" />
<path d="M340.6,426.2 L342.5,423.8 L347.5,420.0 L352.5,416.9 L358.8,414.4 L365.0,413.8 L370.0,415.0 L368.8,416.9 L363.8,418.1 L357.5,420.0 L352.5,422.5 L348.8,425.6 L345.6,428.8 L345.0,433.1 L342.5,431.9 L341.2,429.4Z" fill="#d3d3d3" stroke="#000" stroke-width="0.7" />
<path d="M331.0,429.8 L332.2,430.4 L332.6,431.5 L331.9,432.6 L330.6,432.9 L329.6,432.1 L329.5,430.8Z" fill="#d3d3d3" stroke="#000" stroke-width="0.7" />
<path d="M392.5,405.0 L394.4,401.2 L396.2,400.6 L398.1,404.4 L400.0,407.5 L401.9,406.9 L404.4,409.4 L403.8,411.9 L401.2,412.5 L400.0,410.6 L396.9,410.0 L393.8,408.1Z" fill="#d3d3d3" stroke="#000" stroke-width="0.7" />
<path d="M439.4,400.6 L443.8,396.9 L447.5,393.8 L450.0,394.4 L447.5,398.1 L443.8,402.5 L440.6,405.0 L438.1,404.0Z" fill="#d3d3d3" stroke="#000" stroke-width="0.7" />
<path d="M445.6,405.0 L448.8,403.8 L451.2,405.6 L448.8,407.5 L446.2,406.9Z" fill="#d3d3d3" stroke="#000" stroke-width="0.7" />
<path d="M473.8,358.1 L475.6,357.5 L476.9,361.2 L475.6,363.8 L473.8,361.9Z" fill="#d3d3d3" stroke="#000" stroke-width="0.7" />
<path d="M520.5,459.3 L523.5,460.5 L529.5,464.2 L535.5,468.0 L541.5,471.0 L544.5,473.2 L543.8,475.5 L546.0,478.5 L551.2,480.0 L553.5,483.0 L552.0,485.2 L547.5,482.2 L543.8,479.2 L540.0,476.2 L535.5,473.2 L531.0,470.2 L525.8,466.5 L522.8,463.5Z" fill="#d3d3d3" stroke="#000" stroke-width="0.7" />
<path d="M554.2,488.2 L558.0,489.0 L563.2,486.0 L567.0,483.8 L570.8,484.5 L570.0,489.0 L571.5,493.5 L567.0,496.5 L565.5,501.0 L568.5,504.0 L566.2,506.2 L561.8,501.8 L560.2,496.5 L557.2,492.8Z" fill="#d3d3d3" stroke="#000" stroke-width="0.7" />
<path d="M567.5,506.2 L571.0,504.5 L575.4,505.4 L579.8,508.0 L583.2,515.0 L586.8,521.1 L592.0,526.4 L592.9,529.9 L589.4,534.2 L587.6,540.4 L585.0,542.1 L585.9,547.4 L585.0,550.0 L581.5,549.1 L580.6,544.8 L578.0,545.6 L575.4,550.0 L572.8,555.2 L570.1,559.6 L568.4,563.1 L566.6,562.2 L567.5,557.0 L568.4,551.8 L571.0,548.2 L574.5,543.9 L577.1,538.6 L576.2,533.4 L574.5,531.6 L577.1,529.9 L578.0,523.8 L575.4,517.6 L571.9,512.4 L569.2,508.9Z" fill="#d3d3d3" stroke="#000" stroke-width="0.7" />
<path d="M575.4,553.5 L578.9,551.8 L581.5,553.5 L580.6,558.8 L578.0,562.2 L575.4,560.5Z" fill="#d3d3d3" stroke="#000" stroke-width="0.7" />
<path d="M565.8,566.6 L569.2,564.0 L573.6,564.9 L576.2,568.4 L578.0,572.8 L577.1,577.1 L574.5,578.0 L571.0,573.6 L568.4,571.0 L566.6,572.8 L565.4,570.1Z" fill="#d3d3d3" stroke="#000" stroke-width="0.7" />
<path d="M334.5,378.5 L337.0,375.5 L340.0,372.5 L344.0,370.0 L347.5,370.0 L348.5,372.5 L349.0,375.0 L351.5,375.5 L353.0,377.5 L352.5,380.5 L349.5,381.0 L348.0,379.0 L347.0,377.0 L345.5,378.5 L344.0,381.0 L341.5,383.5 L339.5,383.0 L340.0,380.5 L342.5,379.0 L339.0,379.0 L336.5,379.0Z" fill="#d3d3d3" stroke="#000" stroke-width="0.7" />
<path d="M551.0,322.4 L553.6,323.0 L556.4,326.4 L558.4,329.2 L556.0,328.4 L553.0,325.6Z" fill="#d3d3d3" stroke="#000" stroke-width="0.6" />
<path d="M564.4,344.4 L566.0,346.0 L567.2,350.4 L566.6,355.6 L565.2,354.4 L566.0,350.0Z" fill="#d3d3d3" stroke="#000" stroke-width="0.6" />
<path d="M558.8,381.0 L560.0,380.6 L560.4,383.0 L559.2,383.4Z" fill="#d3d3d3" stroke="#000" stroke-width="0.6" />
<path d="M556.8,434.0 L558.4,434.4 L558.6,438.4 L557.2,438.0Z" fill="#d3d3d3" stroke="#000" stroke-width="0.6" />
<path d="M508.8,338.4 L510.0,338.0 L510.4,343.6 L509.2,344.0Z" fill="#d3d3d3" stroke="#000" stroke-width="0.6" />
<path d="M522.0,327.6 L523.6,328.0 L523.8,331.6 L522.2,331.2Z" fill="#d3d3d3" stroke="#000" stroke-width="0.6" />
</g>
<g id="water" fill="#fff" stroke="#000" stroke-width="0.7" stroke-linejoin="round">
<path d="M495.6,197.5 L497.2,198.8 L498.1,205.0 L499.8,211.2 L501.2,217.5 L500.2,218.1 L498.1,213.1 L496.9,206.9 L495.0,204.4 L494.4,200.6Z" fill="#fff" stroke="#000" stroke-width="0.7" />
<path d="M504.4,92.0 L503.6,101.0 L509.0,105.6 L511.0,99.0 L512.4,95.0Z" fill="#fff" stroke="#000" stroke-width="0.7" />
<path d="M349.8,141.8 L358.0,136.8 L364.8,135.8 L365.8,137.2 L361.8,139.5 L355.0,143.2 L350.5,144.3Z" fill="#fff" stroke="#000" stroke-width="0.7" />
<path d="M340.0,150.8 L343.0,148.5 L350.5,146.2 L352.0,147.8 L346.8,151.5 L340.8,154.5Z" fill="#fff" stroke="#000" stroke-width="0.7" />
<path d="M354.6,154.2 L359.5,152.2 L361.8,144.8 L364.0,148.5 L367.8,146.2 L368.5,151.5 L371.5,156.0 L370.0,159.0 L363.2,158.2 L359.5,159.8 L356.5,157.5Z" fill="#fff" stroke="#000" stroke-width="0.7" />
<path d="M378.2,135.8 L382.0,135.8 L383.5,141.0 L383.2,150.0 L380.5,154.5 L376.8,156.8 L373.8,156.0 L376.0,153.0 L378.2,148.5 L377.5,141.0Z" fill="#fff" stroke="#000" stroke-width="0.7" />
<path d="M372.6,162.0 L376.0,160.2 L382.0,160.5 L385.0,163.5 L390.2,160.8 L398.5,160.2 L394.0,165.0 L389.5,167.2 L385.0,171.8 L379.8,171.0 L375.2,167.2Z" fill="#fff" stroke="#000" stroke-width="0.7" />
<path d="M411.0,184.0 L413.6,180.4 L415.0,185.0 L417.0,192.0 L416.0,197.6 L414.0,196.0 L412.4,190.0Z" fill="#fff" stroke="#000" stroke-width="0.7" />
<path d="M417.6,180.4 L419.6,181.0 L420.0,186.0 L423.6,193.6 L424.4,196.0 L421.0,194.0 L418.4,188.0Z" fill="#fff" stroke="#000" stroke-width="0.7" />
<path d="M422.0,219.0 L423.6,215.0 L426.0,212.4 L425.6,216.0 L423.6,219.6Z" fill="#fff" stroke="#000" stroke-width="0.7" />
<path d="M431.2,245.4 L436.2,244.4 L440.0,242.5 L445.0,241.9 L449.4,243.1 L450.6,245.4 L446.2,245.0 L444.4,248.8 L441.9,246.9 L437.5,246.2 L434.4,247.2Z" fill="#fff" stroke="#000" stroke-width="0.7" />
<path d="M433.1,229.4 L437.5,228.1 L442.5,228.5 L441.9,230.6 L438.1,231.9 L435.0,231.0Z" fill="#fff" stroke="#000" stroke-width="0.7" />
<path d="M441.2,267.5 L445.0,266.2 L447.5,264.4 L449.4,266.2 L453.1,266.9 L450.0,269.4 L452.5,273.1 L447.5,271.9 L442.5,273.5 L443.8,270.0Z" fill="#fff" stroke="#000" stroke-width="0.7" />
<path d="M420.6,219.4 L423.1,213.8 L425.0,211.9 L425.6,213.8 L423.8,217.5 L421.9,220.6Z" fill="#fff" stroke="#000" stroke-width="0.7" />
<path d="M433.1,229.0 L437.5,228.1 L442.5,228.8 L439.4,231.9 L436.2,231.2Z" fill="#fff" stroke="#000" stroke-width="0.7" />
<path d="M431.9,245.6 L437.5,243.1 L445.0,241.9 L450.0,242.5 L450.0,245.0 L443.8,245.6 L437.5,247.5Z" fill="#fff" stroke="#000" stroke-width="0.7" />
<path d="M134.6,337.0 L137.0,344.0 L140.0,352.0 L145.0,358.0 L150.0,362.0 L155.0,361.0 L161.0,366.0 L166.0,372.0 L172.0,373.0 L175.0,379.0 L176.0,386.0 L179.0,392.0 L181.5,394.0 L181.0,397.0 L178.0,399.0 L175.0,402.0 L172.0,405.0 L169.5,409.0 L168.5,413.0 L167.0,418.0 L165.0,422.0 L162.5,425.5 L160.0,427.0 L157.0,427.5 L155.0,428.5 L158.0,430.0 L162.0,431.0 L164.5,429.0 L168.0,428.5 L168.5,432.0 L167.5,435.0 L169.5,435.5 L170.5,432.0 L171.5,428.0 L173.0,424.0 L174.0,420.0 L175.0,416.0 L178.0,414.0 L181.0,411.0 L183.0,407.5 L186.0,405.5 L189.0,404.5 L191.0,406.5 L191.5,409.0 L190.0,410.0 L190.5,412.5 L189.0,414.5 L186.0,416.0 L184.0,419.0 L182.5,423.0 L181.0,428.0 L179.5,433.0 L178.0,436.0 L174.0,437.5 L171.0,438.5 L168.5,442.0 L165.5,445.5 L163.5,448.5 L163.5,449.5 L160.0,450.5 L157.0,453.0 L156.0,457.5 L157.5,460.5 L160.0,458.5 L163.5,457.5 L165.0,455.0 L165.5,461.5 L168.0,461.5 L170.0,457.5 L172.0,454.0 L174.5,451.0 L177.0,450.5 L178.0,453.5 L180.0,455.0 L182.0,457.5 L183.5,461.5 L182.5,464.0 L179.5,464.5 L177.0,466.5 L175.0,468.5 L172.0,469.5 L171.0,472.5 L169.5,475.5 L168.0,478.0 L169.0,481.0 L168.5,485.0 L170.0,489.0 L173.0,491.0 L175.0,494.0 L175.0,497.5 L177.0,500.5 L180.0,503.0 L183.5,505.5 L185.5,508.5 L187.5,509.0 L184.0,511.5 L179.0,514.0 L174.0,516.0 L168.0,518.0 L162.5,520.0 L156.0,520.0 L150.0,514.0 L149.0,509.0 L142.0,504.0 L139.0,494.0 L137.0,480.0 L136.0,468.0 L133.0,460.0 L124.0,457.0 L118.0,457.0 L120.0,448.0 L119.0,438.0 L123.0,434.0 L124.0,424.0 L125.0,412.0 L127.0,409.0 L130.0,409.5 L134.0,411.5 L137.0,409.5 L140.0,407.5 L143.5,409.0 L145.0,405.0 L144.5,400.0 L142.5,394.0 L141.5,388.0 L139.5,384.0 L140.5,380.0 L140.0,384.0 L138.0,372.0 L135.0,360.0 L131.0,352.0 L130.0,345.0 L132.0,339.0Z" fill="#fff" stroke="#000" stroke-width="0.7" />
<path d="M154.5,427.0 L153.0,420.0 L152.0,414.5 L150.5,414.0 L149.0,416.0 L148.0,421.0 L146.5,425.0 L147.0,427.5 L150.0,427.0Z" fill="#d3d3d3" stroke="#000" stroke-width="0.7" />
<path d="M153.0,398.0 L154.0,396.0 L159.0,395.0 L163.0,394.0 L164.5,396.5 L167.0,395.5 L170.0,394.5 L172.5,395.5 L174.0,397.0 L171.0,398.5 L168.0,398.0 L165.0,398.5 L162.5,400.5 L158.0,401.5 L155.0,400.5Z" fill="#d3d3d3" stroke="#000" stroke-width="0.7" />
<path d="M153.0,374.0 L154.4,370.6 L155.8,374.6Z" fill="#d3d3d3" stroke="#000" stroke-width="0.7" />
<path d="M151.5,465.5 L153.5,465.0 L155.0,469.0 L156.5,474.5 L157.0,477.0 L155.0,477.0 L153.5,473.0 L152.0,469.0Z" fill="#d3d3d3" stroke="#000" stroke-width="0.7" />
<path d="M168.5,502.0 L170.0,501.2 L173.0,504.0 L177.0,507.0 L177.5,508.5 L174.0,508.0 L170.0,506.0 L168.5,504.0Z" fill="#d3d3d3" stroke="#000" stroke-width="0.7" />
<path d="M163.0,480.5 L165.0,480.0 L167.0,481.0 L165.5,482.5 L163.5,482.0Z" fill="#d3d3d3" stroke="#000" stroke-width="0.7" />
<path d="M183.5,466.5 L185.0,465.5 L189.0,470.5 L190.0,473.5 L188.5,474.5 L186.0,471.5 L184.0,469.0Z" fill="#fff" stroke="#000" stroke-width="0.7" />
<path d="M191.5,469.0 L193.0,465.5 L195.0,464.0 L201.0,463.5 L206.0,463.0 L212.0,464.0 L219.0,464.0 L220.5,467.0 L219.5,471.0 L221.5,473.0 L219.0,475.0 L216.5,475.5 L215.0,478.5 L219.0,480.0 L223.0,483.0 L224.0,484.0 L225.0,494.0 L226.0,502.0 L224.0,509.0 L220.0,511.0 L215.0,508.0 L210.0,502.0 L208.0,496.0 L207.0,490.0 L204.0,485.0 L199.0,480.0 L194.0,477.0 L192.0,473.0Z" fill="#fff" stroke="#000" stroke-width="0.7" />
<path d="M223.0,480.0 L228.0,478.0 L233.0,481.0 L237.0,485.0 L232.0,486.0 L227.0,486.0Z" fill="#fff" stroke="#000" stroke-width="0.7" />
<path d="M247.0,515.0 L253.0,512.0 L260.0,514.0 L267.0,516.0 L271.0,521.0 L271.0,527.0 L269.0,529.0 L266.0,525.0 L262.0,523.0 L258.0,524.0 L256.0,529.0 L255.0,536.0 L256.0,540.0 L259.0,544.0 L258.0,548.0 L253.0,549.0 L250.0,547.0 L249.0,554.0 L246.0,560.0 L243.0,565.0 L238.0,562.0 L234.0,560.0 L231.0,554.0 L229.0,549.0 L233.0,544.0 L239.0,541.0 L242.0,538.0 L242.4,530.0 L244.0,522.0Z" fill="#fff" stroke="#000" stroke-width="0.7" />
<path d="M279.0,541.0 L282.0,538.0 L287.0,537.0 L291.0,537.0 L294.0,538.0 L292.0,543.0 L291.0,546.0 L287.0,548.0 L283.0,548.0 L280.0,545.0Z" fill="#fff" stroke="#000" stroke-width="0.7" />
<path d="M334.0,557.0 L337.0,555.0 L343.0,556.0 L353.0,557.6 L352.0,559.0 L343.0,558.0 L338.0,557.0 L336.0,559.0 L337.0,562.0 L334.0,561.0Z" fill="#fff" stroke="#000" stroke-width="0.7" />
<path d="M240.6,395.0 L236.9,395.6 L233.8,397.5 L232.5,400.6 L235.6,403.8 L238.1,407.5 L237.5,412.5 L240.0,415.0 L245.0,415.6 L250.0,416.2 L255.6,416.9 L255.0,420.6 L257.5,421.9 L260.0,419.4 L261.2,416.9 L265.0,416.9 L267.5,419.4 L268.8,423.1 L271.9,426.9 L274.4,427.5 L273.1,423.8 L270.6,420.0 L267.5,415.0 L266.2,411.2 L268.1,408.8 L271.9,407.5 L276.2,405.6 L281.2,405.0 L286.2,406.2 L290.6,408.1 L293.1,405.6 L291.9,402.5 L288.8,401.9 L285.0,403.1 L280.0,401.2 L275.0,399.4 L270.0,398.8 L266.2,400.0 L262.5,404.4 L257.5,405.0 L253.1,403.1 L248.8,403.1 L243.8,401.9 L240.6,398.8Z" fill="#fff" stroke="#000" stroke-width="0.7" />
<path d="M240.0,391.2 L243.8,388.1 L247.5,384.4 L254.4,386.9 L250.0,389.4 L243.8,393.1Z" fill="#ffffcc" stroke="#000" stroke-width="0.7" />
<path d="M276.2,427.5 L278.1,425.6 L281.2,426.2 L282.5,429.4 L281.2,432.5 L278.1,433.1 L276.5,430.6Z" fill="#fff" stroke="#000" stroke-width="0.7" />
<path d="M285.6,433.8 L287.5,431.2 L290.6,430.6 L291.9,432.5 L290.0,436.2 L287.5,438.1 L285.9,436.9Z" fill="#fff" stroke="#000" stroke-width="0.7" />
<path d="M232.8,388.1 L235.6,387.2 L238.5,388.8 L239.0,391.9 L237.5,394.8 L234.4,395.0 L232.2,392.5Z" fill="#d3d3d3" stroke="#000" stroke-width="0.7" />
<path d="M368.1,443.8 L366.9,452.5 L365.0,458.1 L361.2,461.2 L357.5,461.2 L358.1,459.4 L362.5,456.9 L364.4,452.5 L365.6,446.2 L366.5,442.5Z" fill="#fff" stroke="none" />
<path d="M444.5,507.5 L445.6,512.0 L444.8,518.0 L442.3,524.0 L440.0,527.5 L441.0,522.0 L443.0,516.0 L443.6,511.0Z" fill="#fff" stroke="#000" stroke-width="0.6" />
</g>
<g id="lines" fill="none" stroke="#000" stroke-width="0.7">
<path d="M362.0,390.5 L364.0,392.0 L363.0,394.0 L362.0,392.5Z" fill="none" stroke="#000" stroke-width="0.7" />
<path d="M367.0,394.0 L370.0,393.0 L372.0,394.5 L375.0,395.5 L373.0,397.5 L369.5,398.0 L367.5,396.5Z" fill="none" stroke="#000" stroke-width="0.7" />
<path d="M365.5,394.5 L367.0,395.5 L366.0,397.0Z" fill="none" stroke="#000" stroke-width="0.7" />
</g>
<g id="grid" fill="none" stroke="#1a1a1a" stroke-width="0.65" stroke-dasharray="3.9 4.95">
<circle cx="391.4" cy="361.1" r="209.1"/>
<circle cx="391.4" cy="361.1" r="135.2"/>
<circle cx="391.4" cy="361.1" r="66.4"/>
<line x1="682.8" y1="361.5" x2="391.4" y2="361.5"/>
<line x1="643.8" y1="506.8" x2="429.6" y2="383.2"/>
<line x1="537.1" y1="613.5" x2="413.5" y2="399.3"/>
<line x1="391.5" y1="652.5" x2="391.5" y2="361.1"/>
<line x1="245.7" y1="613.5" x2="369.3" y2="399.3"/>
<line x1="139.0" y1="506.8" x2="353.2" y2="383.2"/>
<line x1="100.0" y1="361.5" x2="391.4" y2="361.5"/>
<line x1="139.0" y1="215.4" x2="353.2" y2="339.0"/>
<line x1="245.7" y1="108.7" x2="369.3" y2="322.9"/>
<line x1="391.5" y1="69.7" x2="391.5" y2="361.1"/>
<line x1="537.1" y1="108.7" x2="413.5" y2="322.9"/>
<line x1="643.8" y1="215.4" x2="429.6" y2="339.0"/>
</g>
</g>
<circle cx="391.4" cy="361.1" r="291.4" fill="none" stroke="#000" stroke-width="1"/>
<g id="lonlabels">
<text x="391.4" y="63.7" text-anchor="middle" font-size="15.9">90W</text>
<text x="240" y="105" text-anchor="end" font-size="15.9">60W</text>
<text x="128.4" y="215.6" text-anchor="end" font-size="15.9">30W</text>
<text x="89.5" y="366.9" text-anchor="end" font-size="15.9">0</text>
<text x="129.8" y="518.5" text-anchor="end" font-size="15.9">30E</text>
<text x="241.2" y="629.5" text-anchor="end" font-size="15.9">60E</text>
<text x="391.3" y="670.2" text-anchor="middle" font-size="15.9">90E</text>
<text x="542.3" y="629.8" text-anchor="start" font-size="15.9">120E</text>
<text x="652.9" y="518.8" text-anchor="start" font-size="15.9">150E</text>
<text x="693.5" y="366.9" text-anchor="start" font-size="15.9">180</text>
<text x="653.5" y="216" text-anchor="start" font-size="15.9">150W</text>
<text x="542.3" y="105" text-anchor="start" font-size="15.9">120W</text>
</g>
<g id="titles" font-size="16.4">
<text x="62.6" y="28.3" textLength="191.8" lengthAdjust="spacingAndGlyphs">Ice concentration anomaly</text>
<text x="62.2" y="52.3" textLength="220.2" lengthAdjust="spacingAndGlyphs">CMA-CPSv3 monthly forecast</text>
<text x="62.6" y="76.3" textLength="156.6" lengthAdjust="spacingAndGlyphs">Initial date: 20260101</text>
<text x="760.6" y="28.3" text-anchor="end" textLength="106.6" lengthAdjust="spacingAndGlyphs">Dates: 202602</text>
<text x="760.6" y="52.3" text-anchor="end" textLength="143.8" lengthAdjust="spacingAndGlyphs">Ensemble Size = 21</text>
<text x="760.6" y="76.3" text-anchor="end" textLength="67.4" lengthAdjust="spacingAndGlyphs">Units: 0-1</text>
</g>
<text x="391.2" y="735.2" text-anchor="middle" font-size="13" style="stroke-width:0.1px">Copyright © CEMC, CMA</text>
<g id="colorbar">
<rect x="103.20" y="743.5" width="48.1" height="17" fill="#a02428" stroke="#111" stroke-width="0.6"/>
<rect x="151.30" y="743.5" width="48.1" height="17" fill="#cd0000" stroke="#111" stroke-width="0.6"/>
<rect x="199.40" y="743.5" width="48.1" height="17" fill="#ff0000" stroke="#111" stroke-width="0.6"/>
<rect x="247.50" y="743.5" width="48.1" height="17" fill="#ffa500" stroke="#111" stroke-width="0.6"/>
<rect x="295.60" y="743.5" width="48.1" height="17" fill="#ffe132" stroke="#111" stroke-width="0.6"/>
<rect x="343.70" y="743.5" width="48.1" height="17" fill="#ffffcc" stroke="#111" stroke-width="0.6"/>
<rect x="391.80" y="743.5" width="48.1" height="17" fill="#d2f4ff" stroke="#111" stroke-width="0.6"/>
<rect x="439.90" y="743.5" width="48.1" height="17" fill="#a0d2fa" stroke="#111" stroke-width="0.6"/>
<rect x="488.00" y="743.5" width="48.1" height="17" fill="#1e90ff" stroke="#111" stroke-width="0.6"/>
<rect x="536.10" y="743.5" width="48.1" height="17" fill="#4169e1" stroke="#111" stroke-width="0.6"/>
<rect x="584.20" y="743.5" width="48.1" height="17" fill="#0000cd" stroke="#111" stroke-width="0.6"/>
<rect x="632.30" y="743.5" width="48.1" height="17" fill="#00008b" stroke="#111" stroke-width="0.6"/>
<text x="151.30" y="776.6" text-anchor="middle" font-size="15.6">-0.8</text>
<text x="199.40" y="776.6" text-anchor="middle" font-size="15.6">-0.6</text>
<text x="247.50" y="776.6" text-anchor="middle" font-size="15.6">-0.4</text>
<text x="295.60" y="776.6" text-anchor="middle" font-size="15.6">-0.2</text>
<text x="343.70" y="776.6" text-anchor="middle" font-size="15.6">-0.1</text>
<text x="391.80" y="776.6" text-anchor="middle" font-size="15.6">0</text>
<text x="439.90" y="776.6" text-anchor="middle" font-size="15.6">0.1</text>
<text x="488.00" y="776.6" text-anchor="middle" font-size="15.6">0.2</text>
<text x="536.10" y="776.6" text-anchor="middle" font-size="15.6">0.4</text>
<text x="584.20" y="776.6" text-anchor="middle" font-size="15.6">0.6</text>
<text x="632.30" y="776.6" text-anchor="middle" font-size="15.6">0.8</text>
</g>
</svg>
</body></html>
